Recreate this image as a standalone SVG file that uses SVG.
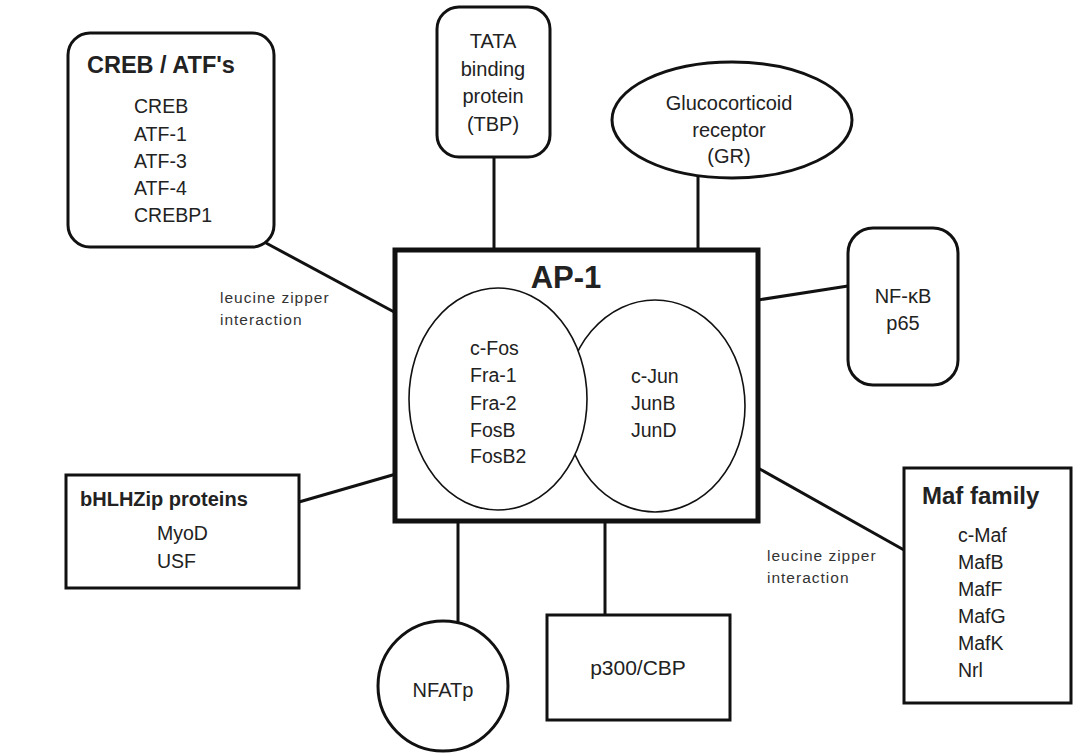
<svg xmlns="http://www.w3.org/2000/svg" width="1075" height="754" viewBox="0 0 1075 754">
<style>
.box{fill:#fff;stroke:#111;stroke-width:3}
.thick{fill:#fff;stroke:#111;stroke-width:5}
.thin{fill:#fff;stroke:#111;stroke-width:1.6}
.conn{stroke:#111;stroke-width:3;fill:none}
text{font-family:"Liberation Sans",Arial,Helvetica,sans-serif;fill:#222}
.t{font-size:19.5px}
.m{font-size:20px;text-anchor:middle}
.h{font-size:23.5px;font-weight:bold}
.lz{font-size:15.5px;letter-spacing:1px;fill:#333}
</style>
<rect width="1075" height="754" fill="#fff"/>
<g id="connectors">
<line class="conn" x1="266" y1="243" x2="396" y2="313"/>
<line class="conn" x1="494" y1="157" x2="494" y2="250"/>
<line class="conn" x1="698" y1="177" x2="698" y2="250"/>
<line class="conn" x1="758" y1="300" x2="848" y2="286"/>
<line class="conn" x1="299" y1="502" x2="396" y2="474"/>
<line class="conn" x1="458" y1="521" x2="458" y2="623"/>
<line class="conn" x1="605" y1="521" x2="605" y2="615"/>
<line class="conn" x1="758" y1="468" x2="904" y2="550"/>
</g>
<g id="creb">
<rect class="box" x="68" y="33" width="206" height="214" rx="22"/>
<text class="h" x="87" y="73">CREB / ATF's</text>
<text class="t" x="134" y="113">CREB</text>
<text class="t" x="134" y="141">ATF-1</text>
<text class="t" x="134" y="168">ATF-3</text>
<text class="t" x="134" y="195">ATF-4</text>
<text class="t" x="134" y="222">CREBP1</text>
</g>
<g id="tbp">
<rect class="box" x="437" y="7" width="113" height="150" rx="22"/>
<text class="m" x="493" y="48">TATA</text>
<text class="m" x="493" y="75.5">binding</text>
<text class="m" x="493" y="103">protein</text>
<text class="m" x="493" y="130.5">(TBP)</text>
</g>
<g id="gr">
<ellipse class="box" cx="732" cy="120" rx="120" ry="58"/>
<text class="m" x="729" y="110">Glucocorticoid</text>
<text class="m" x="729" y="137">receptor</text>
<text class="m" x="729" y="163">(GR)</text>
</g>
<g id="ap1">
<rect class="thick" x="395" y="250" width="363" height="271"/>
<text x="566" y="288" style="font-size:31px;font-weight:bold;text-anchor:middle">AP-1</text>
<ellipse class="thin" cx="655" cy="406" rx="90" ry="106"/>
<ellipse class="thin" cx="498" cy="399" rx="89" ry="111"/>
<text class="t" x="470" y="355">c-Fos</text>
<text class="t" x="470" y="382">Fra-1</text>
<text class="t" x="470" y="410">Fra-2</text>
<text class="t" x="470" y="437">FosB</text>
<text class="t" x="470" y="463">FosB2</text>
<text class="t" x="631" y="383">c-Jun</text>
<text class="t" x="631" y="410">JunB</text>
<text class="t" x="631" y="437">JunD</text>
</g>
<g id="nfkb">
<rect class="box" x="848" y="228" width="110" height="157" rx="25"/>
<text class="m" x="903" y="303">NF-κB</text>
<text class="m" x="903" y="330">p65</text>
</g>
<g id="bhlh">
<rect class="box" x="66" y="475" width="233" height="113"/>
<text x="80" y="506" style="font-size:20px;font-weight:bold">bHLHZip proteins</text>
<text class="t" x="157" y="540">MyoD</text>
<text class="t" x="157" y="568">USF</text>
</g>
<g id="nfatp">
<circle class="box" cx="443" cy="686" r="65"/>
<text class="m" x="443" y="697">NFATp</text>
</g>
<g id="p300">
<rect class="box" x="547" y="615" width="183" height="105"/>
<text class="m" x="638" y="675" style="font-size:21px">p300/CBP</text>
</g>
<g id="maf">
<rect class="box" x="904" y="468" width="167" height="235"/>
<text class="h" x="922" y="504" style="font-size:24px">Maf family</text>
<text class="t" x="958" y="542">c-Maf</text>
<text class="t" x="958" y="569">MafB</text>
<text class="t" x="958" y="596">MafF</text>
<text class="t" x="958" y="623">MafG</text>
<text class="t" x="958" y="650">MafK</text>
<text class="t" x="958" y="677">Nrl</text>
</g>
<g id="labels">
<text class="lz" x="220" y="303">leucine zipper</text>
<text class="lz" x="220" y="325">interaction</text>
<text class="lz" x="767" y="561">leucine zipper</text>
<text class="lz" x="767" y="583">interaction</text>
</g>
</svg>
